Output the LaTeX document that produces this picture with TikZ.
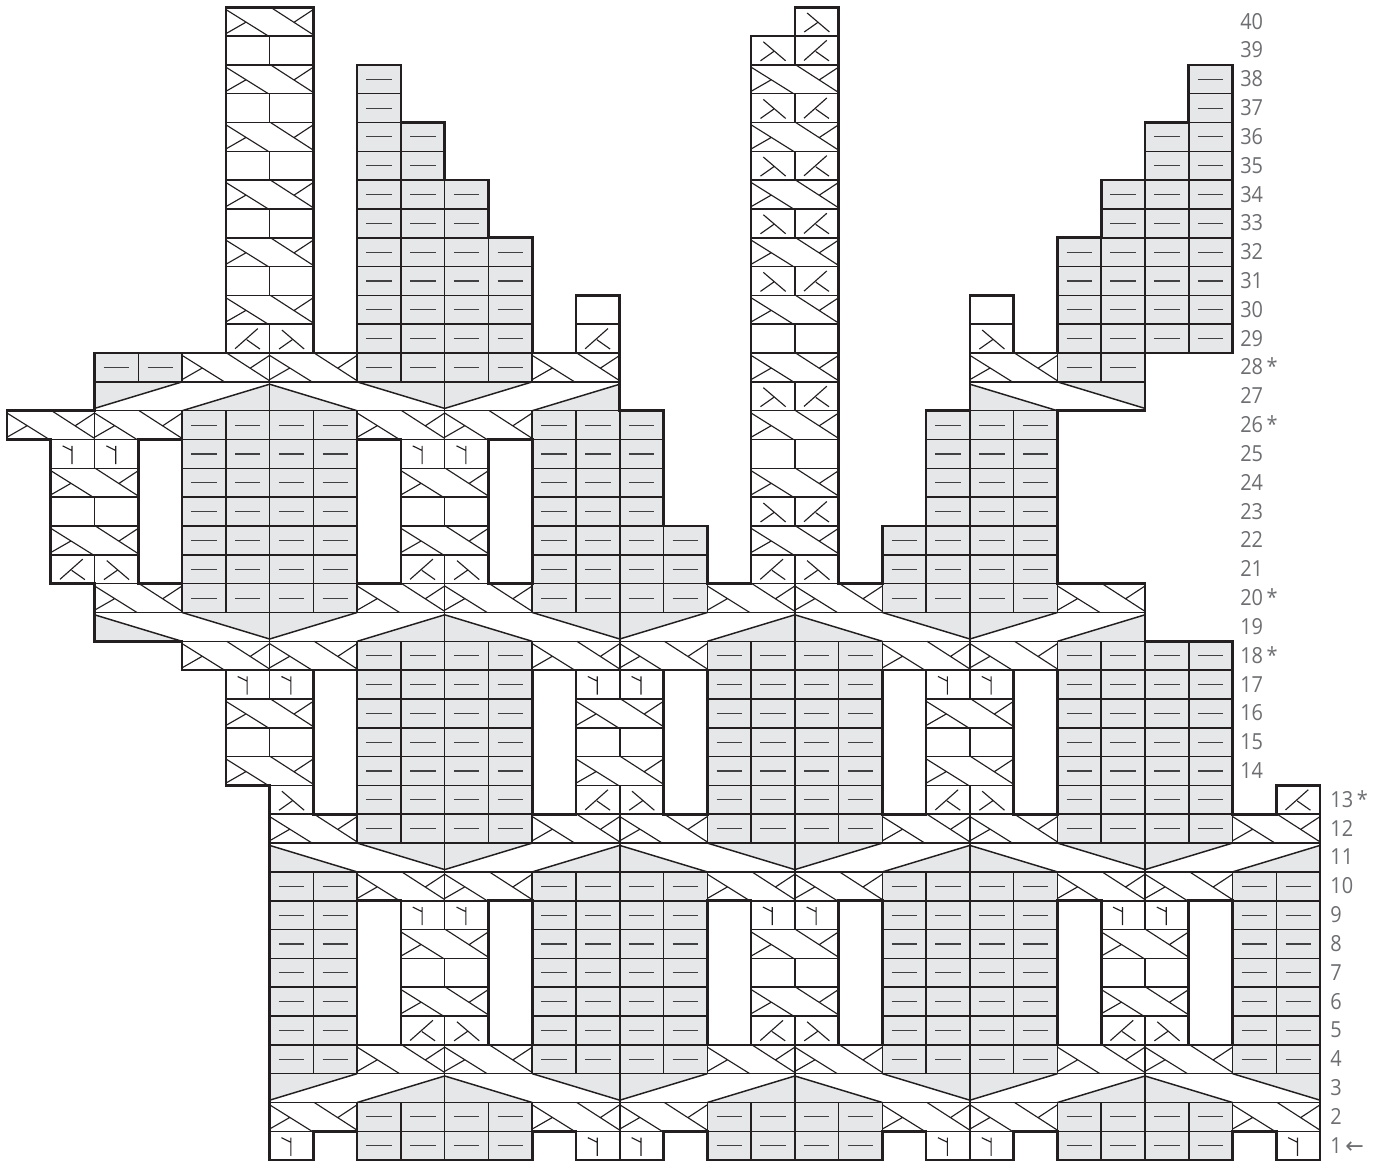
\documentclass[tikz,border=0pt]{standalone}
\usepackage{fontspec}
\setmainfont[FakeStretch=.9]{Open Sans}
\newfontfamily\arrowfont{DejaVu Sans}
\definecolor{ink}{HTML}{231F20}
\definecolor{purlgray}{HTML}{E6E7E8}
\definecolor{dashgray}{HTML}{414042}
\definecolor{labelgray}{HTML}{6D6E71}
\newif\ifFillPass
\newcommand\mk[2]{\expandafter\gdef\csname o#1-#2\endcsname{}}
\newcommand\Cbox[3]{\draw[gridline] (#2,#1-1) rectangle +(#3,1);}
\newcommand\Cpurl[3]{\foreach \ci in {#2,...,#3}{\ifFillPass\fill[purlgray] (\ci,#1-1) rectangle +(1,1);\else\mk{\ci}{#1}\Cbox{#1}{\ci}{1}\draw[dashline] (\ci+.21,#1-.5) -- (\ci+.79,#1-.5);\fi}}
\newcommand\CP[2]{\ifFillPass\else\mk{#2}{#1}\Cbox{#1}{#2}{1}\fi}
\newcommand\CK[2]{\ifFillPass\else\CP{#1}{#2}\draw[symline] (#2+.21,#1-.85) -- (#2+.73,#1-.15) (#2+.48,#1-.54) -- (#2+.78,#1-.86);\fi}
\newcommand\CX[2]{\ifFillPass\else\CP{#1}{#2}\draw[symline] (#2+.28,#1-.2) -- (#2+.79,#1-.86) (#2+.215,#1-.86) -- (#2+.515,#1-.54);\fi}
\newcommand\CY[2]{\ifFillPass\else\CP{#1}{#2}\draw[symline] (#2+.485,#1-.85) -- (#2+.485,#1-.22) (#2+.27,#1-.22) -- (#2+.485,#1-.38);\fi}
\newcommand\Cab[2]{\ifFillPass\else\mk{#2}{#1}\mk{\the\numexpr#2+1\relax}{#1}\Cbox{#1}{#2}{2}%
 \draw[symline] (#2,#1-.08) -- (#2+.97,#1-1) (#2,#1-.92) -- (#2+.46,#1-.52)
   (#2+1.02,#1) -- (#2+2,#1-.96) (#2+2,#1-.08) -- (#2+1.56,#1-.52);\fi}
\newcommand\Cband[3]{\ifFillPass\else\foreach \ci in {#2,...,#3}{\mk{\ci}{#1}}\draw[gridline] (#2,#1-1) rectangle (#3+1,#1);\fi}
\newcommand\hp[3]{\ifFillPass\fill[purlgray] (#2,#1-1) -- (#2,#1-.08) -- (#2+#3,#1-1) -- cycle;\else\draw[bandline] (#2,#1-.08) -- (#2+#3,#1-1);\draw[gridline] (#2,#1-1) -- (#2,#1);\fi}
\newcommand\hv[3]{\ifFillPass\fill[purlgray] (#2,#1) -- (#2,#1-.92) -- (#2+#3,#1) -- cycle;\else\draw[bandline] (#2,#1-.92) -- (#2+#3,#1);\draw[gridline] (#2,#1-1) -- (#2,#1);\fi}
\newcommand\pk[2]{\hp{#1}{#2}{-2}\hp{#1}{#2}{2}}
\newcommand\vv[2]{\hv{#1}{#2}{-2}\hv{#1}{#2}{2}}
\newcommand\chartdata{%
\foreach \ci in {6,13,14,21,22,29}{\CY{1}{\ci}}
\foreach \ri in {1,2,12}{\Cpurl{\ri}{8}{11}\Cpurl{\ri}{16}{19}\Cpurl{\ri}{24}{27}}
\foreach \ri in {2,12}{\foreach \ci in {6,12,14,20,22,28}{\Cab{\ri}{\ci}}}
\Cband{3}{6}{29}
\hv{3}{6}{2}\pk{3}{10}\vv{3}{14}\pk{3}{18}\vv{3}{22}\pk{3}{26}\hv{3}{30}{-2}
\foreach \ri in {4,...,10}{\Cpurl{\ri}{6}{7}\Cpurl{\ri}{12}{15}\Cpurl{\ri}{20}{23}\Cpurl{\ri}{28}{29}}
\foreach \ri in {4,10}{\foreach \ci in {8,10,16,18,24,26}{\Cab{\ri}{\ci}}}
\foreach \ci in {9,17,25}{%
  \CK{5}{\ci}\CX{5}{\the\numexpr\ci+1\relax}
  \Cab{6}{\ci}\Cab{8}{\ci}
  \CP{7}{\ci}\CP{7}{\the\numexpr\ci+1\relax}
  \CY{9}{\ci}\CY{9}{\the\numexpr\ci+1\relax}}
\Cband{11}{6}{29}
\hp{11}{6}{2}\vv{11}{10}\pk{11}{14}\vv{11}{18}\pk{11}{22}\vv{11}{26}\hp{11}{30}{-2}
\foreach \ri in {13,...,18}{\Cpurl{\ri}{8}{11}\Cpurl{\ri}{16}{19}\Cpurl{\ri}{24}{27}}
\CX{13}{6}\CK{13}{13}\CX{13}{14}\CK{13}{21}\CX{13}{22}\CK{13}{29}
\foreach \ci in {5,13,21}{%
  \Cab{14}{\ci}\Cab{16}{\ci}
  \CP{15}{\ci}\CP{15}{\the\numexpr\ci+1\relax}
  \CY{17}{\ci}\CY{17}{\the\numexpr\ci+1\relax}}
\foreach \ci in {4,6,12,14,20,22}{\Cab{18}{\ci}}
\Cband{19}{2}{25}
\hp{19}{2}{2}\vv{19}{6}\pk{19}{10}\vv{19}{14}\pk{19}{18}\vv{19}{22}\hp{19}{26}{-2}
\foreach \ci in {2,8,10,16,18,24}{\Cab{20}{\ci}}
\foreach \ri in {20,21,22}{\Cpurl{\ri}{4}{7}\Cpurl{\ri}{12}{15}\Cpurl{\ri}{20}{23}}
\foreach \ri in {23,...,26}{\Cpurl{\ri}{4}{7}\Cpurl{\ri}{12}{14}\Cpurl{\ri}{21}{23}}
\foreach \ci in {1,9,17}{\CK{21}{\ci}\CX{21}{\the\numexpr\ci+1\relax}\Cab{22}{\ci}\Cab{24}{\ci}}
\foreach \ci in {1,2,9,10}{\CP{23}{\ci}\CY{25}{\ci}}
\CX{23}{17}\CK{23}{18}\CP{25}{17}\CP{25}{18}
\foreach \ci in {0,2,8,10,17}{\Cab{26}{\ci}}
\Cband{27}{2}{13}
\hv{27}{2}{2}\pk{27}{6}\vv{27}{10}\hp{27}{14}{-2}
\CX{27}{17}\CK{27}{18}
\Cband{27}{22}{25}
\hp{27}{22}{2}\hv{27}{26}{-2}
\Cpurl{28}{2}{3}\Cpurl{28}{24}{25}
\foreach \ci in {4,6,12,17,22}{\Cab{28}{\ci}}
\foreach \ri in {28,...,32}{\Cpurl{\ri}{8}{11}}
\foreach \ri in {29,...,32}{\Cpurl{\ri}{24}{27}}
\foreach \ri in {33,34}{\Cpurl{\ri}{8}{10}\Cpurl{\ri}{25}{27}}
\foreach \ri in {35,36}{\Cpurl{\ri}{8}{9}\Cpurl{\ri}{26}{27}}
\foreach \ri in {37,38}{\Cpurl{\ri}{8}{8}\Cpurl{\ri}{27}{27}}
\CK{29}{5}\CX{29}{6}\CK{29}{13}\CP{29}{17}\CP{29}{18}\CX{29}{22}
\CP{30}{13}\CP{30}{22}
\foreach \ri in {30,32,34,36,38,40}{\Cab{\ri}{5}}
\foreach \ri in {30,32,34,36,38}{\Cab{\ri}{17}}
\foreach \ri in {31,33,35,37,39}{\CP{\ri}{5}\CP{\ri}{6}\CX{\ri}{17}\CK{\ri}{18}}
\CX{40}{18}
}
\begin{document}
\begin{tikzpicture}[x=32.83pt,y=21.62pt,
  gridline/.style={draw=ink,line width=1.15pt},
  bandline/.style={draw=ink,line width=1.1pt},
  dashline/.style={draw=dashgray,line width=.85pt},
  symline/.style={draw=ink,line width=.85pt},
  edgeline/.style={draw=ink,line width=2pt,line cap=rect},
  rowlabel/.style={anchor=base west,inner sep=0pt,text=labelgray,font=\fontsize{16.6pt}{17pt}\selectfont}]
\useasboundingbox (-.16,-.052) rectangle (31.255,40.25);
\FillPasstrue\chartdata
\FillPassfalse\chartdata
% thick outline wherever a cell meets no cell
\foreach \ri in {1,...,40}{\foreach \ci in {0,...,29}{%
  \ifcsname o\ci-\ri\endcsname
    \ifcsname o\the\numexpr\ci+1\relax-\ri\endcsname\else\draw[edgeline] (\ci+1,\ri-1) -- (\ci+1,\ri);\fi
    \ifcsname o\the\numexpr\ci-1\relax-\ri\endcsname\else\draw[edgeline] (\ci,\ri-1) -- (\ci,\ri);\fi
    \ifcsname o\ci-\the\numexpr\ri+1\relax\endcsname\else\draw[edgeline] (\ci,\ri) -- (\ci+1,\ri);\fi
    \ifcsname o\ci-\the\numexpr\ri-1\relax\endcsname\else\draw[edgeline] (\ci,\ri-1) -- (\ci+1,\ri-1);\fi
  \fi}}
% row numbers
\foreach \ri in {14,...,17,19,21,22,23,24,25,27,29,30,...,40}{\node[rowlabel] (lab\ri) at (28.17,\ri-.76) {\ri};}
\foreach \ri in {18,20,26,28}{\node[rowlabel] (lab\ri) at (28.17,\ri-.76) {\ri\,*};}
\foreach \ri in {2,...,12}{\node[rowlabel] (lab\ri) at (30.23,\ri-.76) {\ri};}
\node[rowlabel] (lab13) at (30.23,13-.76) {13\,*};
\node[rowlabel] (lab1) at (30.23,1-.76) {1\,{\arrowfont ←}};
\end{tikzpicture}
\end{document}
